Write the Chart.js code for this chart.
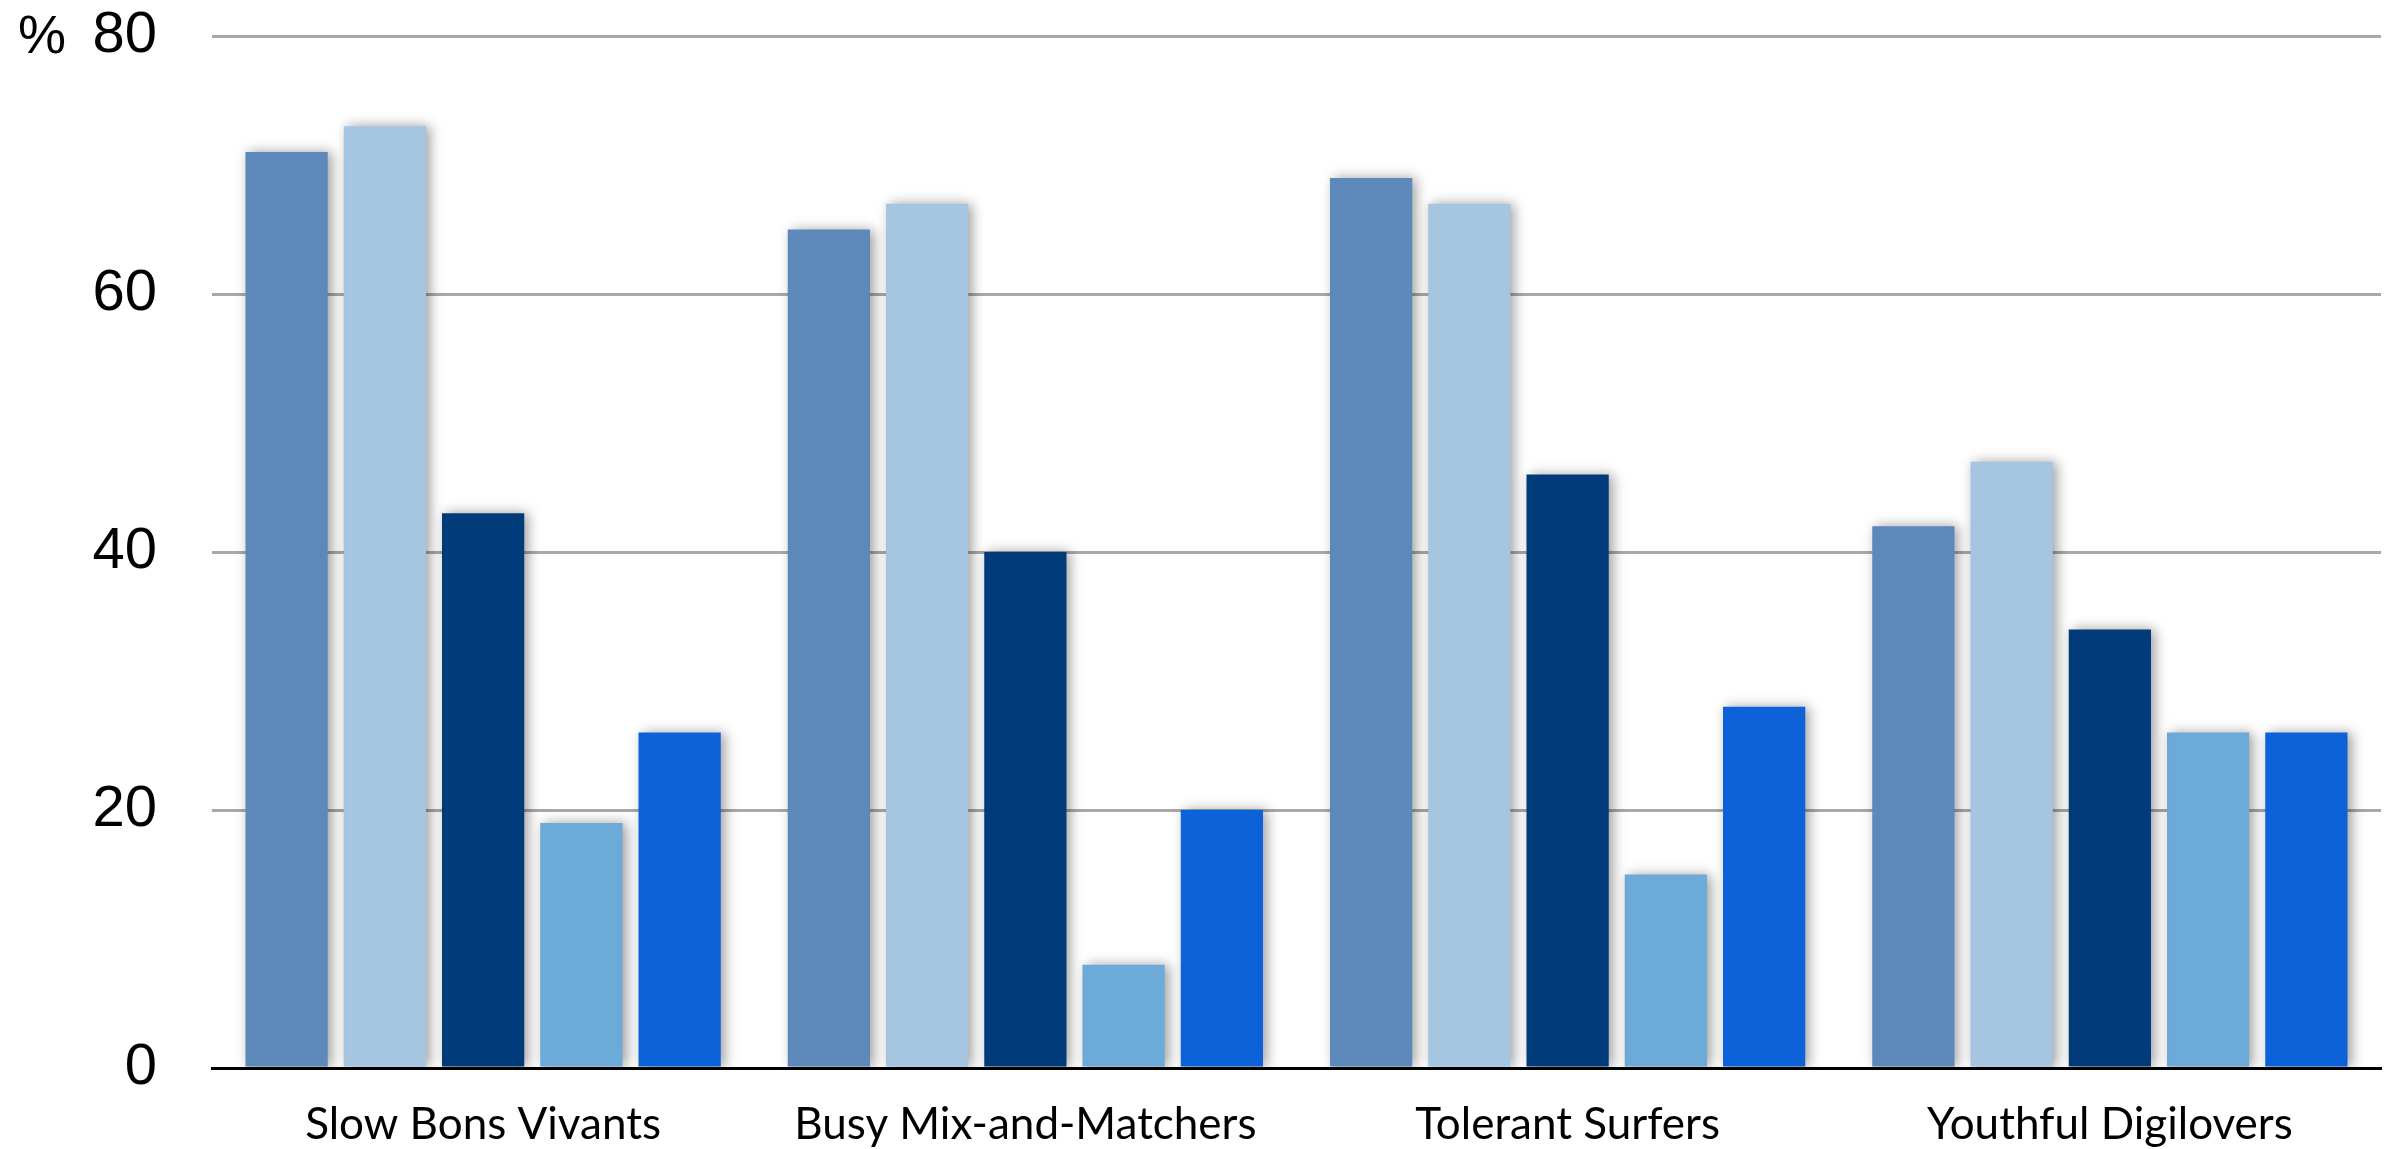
<!DOCTYPE html>
<html>
<head>
<meta charset="utf-8">
<script src="https://cdn.jsdelivr.net/npm/chart.js@4/dist/chart.umd.min.js"></script>
<style>
  html, body { margin: 0; padding: 0; background: #ffffff; }
  #wrap { width: 2387px; height: 1149px; position: relative; }
</style>
</head>
<body>
<div id="wrap"><canvas id="chart"></canvas></div>
<script>
// Segments along the x axis
const categories = ["Slow Bons Vivants", "Busy Mix-and-Matchers", "Tolerant Surfers", "Youthful Digilovers"];

// Share (%) for each of the five measures, per segment
const series1 = [71, 65, 69, 42];
const series2 = [73, 67, 67, 47];
const series3 = [43, 40, 46, 34];
const series4 = [19, 8, 15, 26];
const series5 = [26, 20, 28, 26];

// Y axis ticks
const yTicks = [0, 20, 40, 60, 80];

const seriesValues = [series1, series2, series3, series4, series5];
const seriesColors = ["#5C89B9", "#A5C5E1", "#023B7A", "#6CAADA", "#0C62D9"];

// Soft drop shadow behind the bars
const barShadow = {
  id: "barShadow",
  beforeDatasetsDraw(chart) {
    const ctx = chart.ctx;
    ctx.save();
    ctx.shadowColor = "rgba(0,0,0,0.38)";
    ctx.shadowBlur = 12;
    ctx.shadowOffsetX = 4;
    ctx.shadowOffsetY = 0;
  },
  afterDatasetsDraw(chart) {
    chart.ctx.restore();
  }
};

// Unit marker to the left of the top tick
const unitLabel = {
  id: "unitLabel",
  afterDraw(chart) {
    const y = chart.scales.y;
    const ctx = chart.ctx;
    ctx.save();
    ctx.font = "54px 'Liberation Sans', Arial, sans-serif";
    ctx.fillStyle = "#000";
    ctx.textAlign = "left";
    ctx.textBaseline = "middle";
    ctx.fillText("%", 18, y.getPixelForValue(yTicks[yTicks.length - 1]) + 2);
    ctx.restore();
  }
};

new Chart(document.getElementById("chart"), {
  type: "bar",
  data: {
    labels: categories,
    datasets: seriesValues.map((vals, i) => ({
      label: "Series " + (i + 1),
      data: vals,
      backgroundColor: seriesColors[i],
      borderWidth: 0,
      categoryPercentage: 0.906,
      barPercentage: 0.837
    }))
  },
  options: {
    responsive: true,
    maintainAspectRatio: false,
    animation: false,
    layout: { padding: { top: 36, right: 6, bottom: 2, left: 0 } },
    plugins: {
      legend: { display: false },
      tooltip: { enabled: false }
    },
    scales: {
      x: {
        afterFit(scale) {
          scale.height = 79;
          scale.paddingLeft = 0;
          scale.paddingRight = 0;
        },
        grid: { display: false, drawTicks: false },
        border: { display: true, color: "#000000", width: 3 },
        ticks: {
          color: "#000",
          padding: 30,
          maxRotation: 0,
          font: { family: "Lato, 'Open Sans', sans-serif", size: 44 }
        }
      },
      y: {
        min: 0,
        max: 80,
        afterBuildTicks(scale) {
          scale.ticks = yTicks.map(v => ({ value: v }));
        },
        afterFit(scale) {
          scale.width = 212;
          scale.paddingTop = 0;
          scale.paddingBottom = 0;
        },
        grid: { color: "#A8A8A8", lineWidth: 3, drawTicks: false },
        border: { display: false },
        ticks: {
          color: "#000",
          padding: 55,
          font: { family: "'Liberation Sans', Arial, sans-serif", size: 58 }
        }
      }
    }
  },
  plugins: [barShadow, unitLabel]
});
</script>
</body>
</html>
